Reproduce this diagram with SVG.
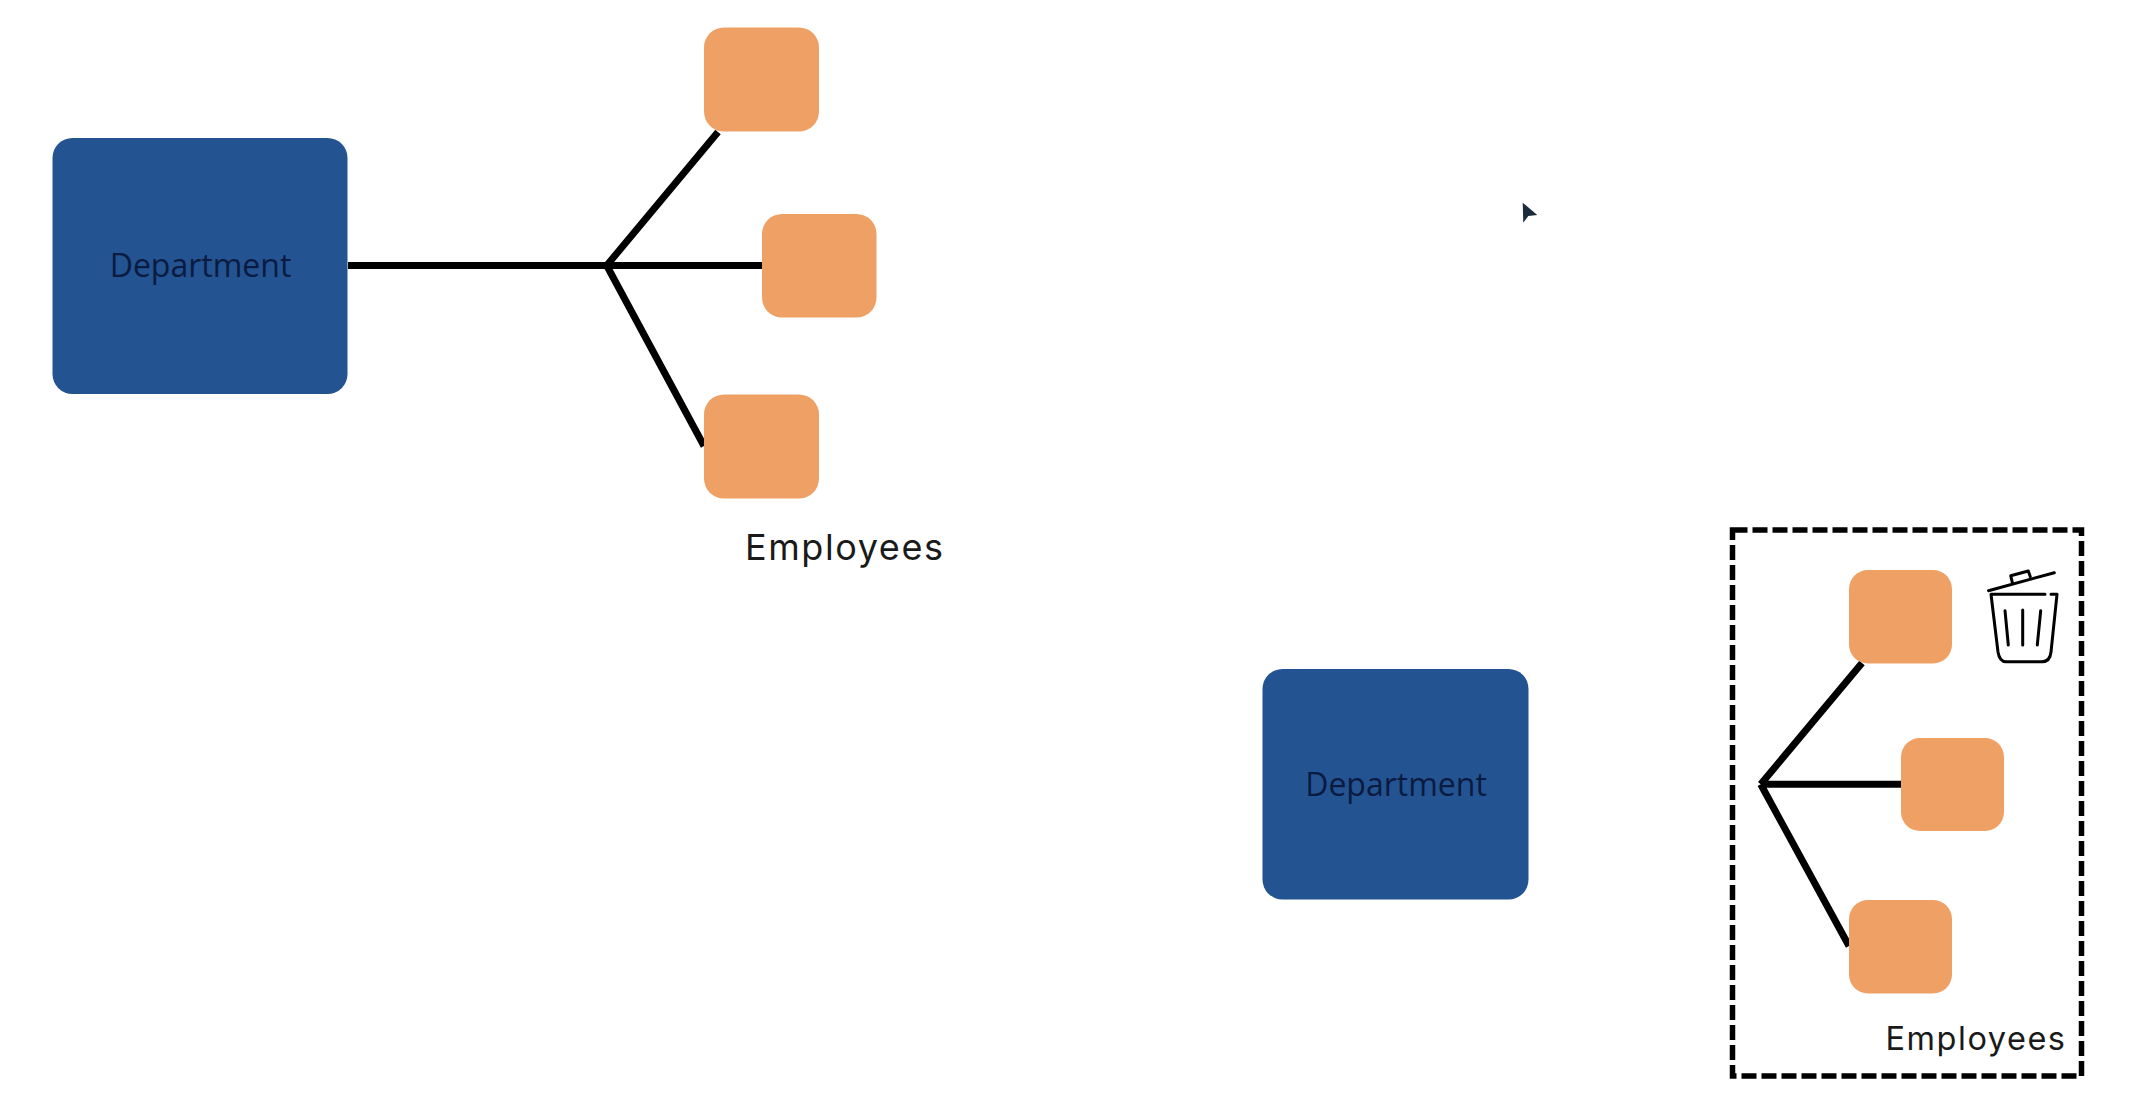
<svg xmlns="http://www.w3.org/2000/svg" width="2140" height="1110" viewBox="0 0 2140 1110">
<style>
.dept{fill:#235390}
.emp{fill:#efa064}
.conn{stroke:#000;stroke-width:7;fill:none;stroke-linecap:butt}
.dtext{font-family:"Open Sans","Liberation Sans",sans-serif;font-size:32px;fill:#0a1b42;text-anchor:middle}
.etext{font-family:"Inter","Liberation Sans",sans-serif;fill:#1a1a1a}
.trash{stroke:#000;stroke-width:3;fill:none;stroke-linecap:round;stroke-linejoin:round}
</style>
<rect width="2140" height="1110" fill="#fff"/>
<g id="connectors">
<path class="conn" d="M348 265.5H606.7M606.7 265.5L718 132M606.7 265.5H762M606.7 265.5L704 446"/>
<path class="conn" d="M1760.7 784.3L1862 663M1760.7 784.3H1901M1760.7 784.3L1849 946"/>
</g>
<g id="department-1">
<rect class="dept" x="52.5" y="138" width="295" height="256" rx="20"/>
<text class="dtext" x="200.5" y="277">Department</text>
</g>
<g id="employee-1a"><rect class="emp" x="704" y="27.5" width="115" height="104" rx="20"/></g>
<g id="employee-1b"><rect class="emp" x="762" y="214" width="114.5" height="103.5" rx="20"/></g>
<g id="employee-1c"><rect class="emp" x="704" y="394.5" width="115" height="104" rx="20"/></g>
<g id="employees-label-1"><text class="etext" x="745" y="560" font-size="36" textLength="198">Employees</text></g>
<g id="cursor"><path d="M1522.7 202.7L1537.3 215L1528.3 216L1523.3 222.7Z" fill="#1a2b3c"/></g>
<g id="department-2">
<rect class="dept" x="1262.5" y="669" width="266" height="230.5" rx="20"/>
<text class="dtext" x="1396" y="796">Department</text>
</g>
<g id="employees-group"><rect x="1732.5" y="530" width="349" height="546" fill="none" stroke="#000" stroke-width="5.5" stroke-dasharray="15 5"/></g>
<g id="employee-2a"><rect class="emp" x="1849" y="570" width="103" height="93.5" rx="19"/></g>
<g id="employee-2b"><rect class="emp" x="1901" y="738" width="103" height="93" rx="19"/></g>
<g id="employee-2c"><rect class="emp" x="1849" y="900" width="103" height="93.5" rx="19"/></g>
<g id="employees-label-2"><text class="etext" x="1885.5" y="1050" font-size="32.5" textLength="179.5">Employees</text></g>
<g id="trash" class="trash">
<path d="M1988.5 590.7L2054.3 572.7"/>
<path d="M2012.3 582.3L2010.7 575.7L2028.3 571L2030.3 576.7"/>
<path d="M2045 594.3H1991L1998 652Q1999.5 661.7 2006 661.7H2042Q2050 661.7 2051 652L2057 594.3H2051"/>
<path d="M2005 610.7L2008.3 645M2022.7 610V645M2040.7 610.7L2037.3 645"/>
</g>
</svg>
